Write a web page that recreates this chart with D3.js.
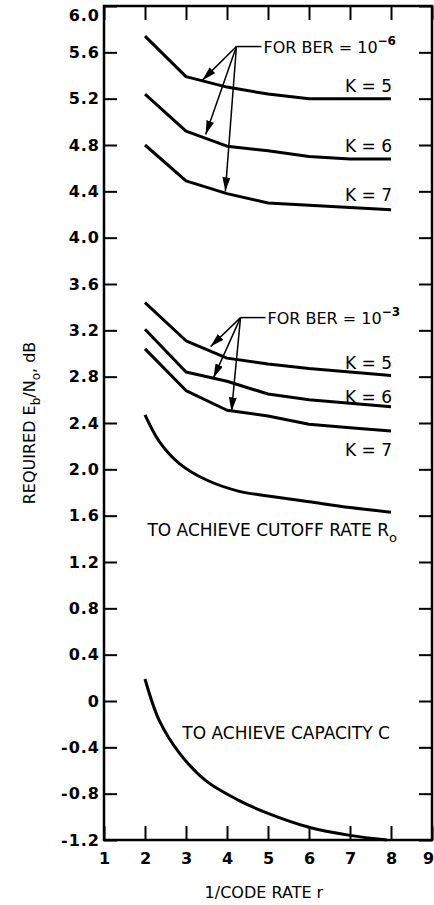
<!DOCTYPE html>
<html>
<head>
<meta charset="utf-8">
<script src="https://cdn.jsdelivr.net/npm/d3@7"></script>
<style>
  body { margin: 0; background: #fff; }
  text { font-family: "DejaVu Sans", sans-serif; fill: #000; }
  .tick text { font-weight: bold; }
</style>
</head>
<body>
<div id="main"></div>
<script>
// data
var rateX = [2, 3, 4, 5, 6, 7, 8];
var ber6K5 = [5.74, 5.39, 5.30, 5.24, 5.20, 5.20, 5.20];
var ber6K6 = [5.24, 4.92, 4.79, 4.75, 4.70, 4.68, 4.68];
var ber6K7 = [4.80, 4.49, 4.38, 4.30, 4.28, 4.26, 4.24];
var ber3K5 = [3.44, 3.11, 2.96, 2.91, 2.87, 2.84, 2.81];
var ber3K6 = [3.21, 2.84, 2.76, 2.65, 2.60, 2.57, 2.54];
var ber3K7 = [3.04, 2.68, 2.51, 2.46, 2.39, 2.36, 2.33];
var cutoffX = [2, 2.35, 2.84, 3.49, 4.3, 5, 6, 7, 8];
var cutoffY = [2.47, 2.24, 2.05, 1.91, 1.81, 1.77, 1.72, 1.67, 1.63];
var capX = [2, 2.35, 2.84, 3.49, 4.3, 5, 6, 7, 7.9];
var capY = [0.19, -0.17, -0.45, -0.69, -0.86, -0.97, -1.09, -1.16, -1.2];
var yTicks = [6.0, 5.6, 5.2, 4.8, 4.4, 4.0, 3.6, 3.2, 2.8, 2.4, 2.0, 1.6, 1.2, 0.8, 0.4, 0, -0.4, -0.8, -1.2];
var yTickLabels = ["6.0","5.6","5.2","4.8","4.4","4.0","3.6","3.2","2.8","2.4","2.0","1.6","1.2","0.8","0.4","0","-0.4","-0.8","-1.2"];
var xTicks = [1, 2, 3, 4, 5, 6, 7, 8, 9];

var margin = {top: 6, right: 2, bottom: 65, left: 104},
    width = 434 - margin.left - margin.right,
    height = 905 - margin.top - margin.bottom;

var svg = d3.select("#main")
    .append("svg")
    .attr("width", 434)
    .attr("height", 905)
    .append("g")
    .attr("transform", "translate(" + margin.left + "," + margin.top + ")");

var defs = svg.append("defs");
defs.append("marker")
    .attr("id", "arrow")
    .attr("viewBox", "0 0 14 8")
    .attr("refX", 14).attr("refY", 4)
    .attr("markerWidth", 14).attr("markerHeight", 8)
    .attr("markerUnits", "userSpaceOnUse")
    .attr("orient", "auto")
    .append("path")
    .attr("d", "M0,0 L14,4 L0,8 Z")
    .attr("fill", "#000");

var xScale = d3.scaleLinear().domain([1, 9]).range([0, width]);
var yScale = d3.scaleLinear().domain([-1.2, 6.0]).range([height, 0]);

// left axis, ticks inside
var yAxisL = svg.append("g")
    .call(d3.axisLeft(yScale).tickValues(yTicks).tickSizeInner(-13).tickSizeOuter(0).tickPadding(4)
      .tickFormat(function(d, i) { return yTickLabels[i]; }));
yAxisL.selectAll("text").style("font-size", "16px").attr("letter-spacing", "1px");
yAxisL.selectAll(".tick").filter(function(d) { return d === 6.0; }).select("text").attr("dy", "0.9em");

// right axis
svg.append("g")
    .attr("transform", "translate(" + width + ",0)")
    .call(d3.axisRight(yScale).tickValues(yTicks).tickSizeInner(-13).tickSizeOuter(0).tickFormat(""));

// bottom axis
var xAxisB = svg.append("g")
    .attr("transform", "translate(0," + height + ")")
    .call(d3.axisBottom(xScale).tickValues(xTicks).tickSizeInner(-14).tickSizeOuter(0).tickPadding(13)
      .tickFormat(d3.format("d")));
xAxisB.selectAll("text").style("font-size", "16px");
xAxisB.selectAll(".tick").filter(function(d) { return d === 9; }).select("text").attr("dx", "-4");

// top axis
svg.append("g")
    .call(d3.axisTop(xScale).tickValues(xTicks).tickSizeInner(-14).tickSizeOuter(0).tickFormat(""));

svg.selectAll(".domain").remove();
svg.selectAll(".tick line").attr("stroke", "#000").attr("stroke-width", 2);

// frame
svg.append("rect")
    .attr("x", 0).attr("y", 0)
    .attr("width", width).attr("height", height)
    .attr("fill", "none")
    .attr("stroke", "#000")
    .attr("stroke-width", 2.5);

var lineLin = d3.line()
    .x(function(d) { return xScale(d[0]); })
    .y(function(d) { return yScale(d[1]); });
var lineSmooth = d3.line()
    .curve(d3.curveCatmullRom)
    .x(function(d) { return xScale(d[0]); })
    .y(function(d) { return yScale(d[1]); });

[ber6K5, ber6K6, ber6K7, ber3K5, ber3K6, ber3K7].forEach(function(s) {
  svg.append("path")
      .datum(d3.zip(rateX, s))
      .attr("d", lineLin)
      .attr("fill", "none")
      .attr("stroke", "#000")
      .attr("stroke-width", 3)
      .attr("stroke-linejoin", "round");
});

svg.append("path")
    .datum(d3.zip(cutoffX, cutoffY))
    .attr("d", lineSmooth)
    .attr("fill", "none").attr("stroke", "#000").attr("stroke-width", 3);

svg.append("path")
    .datum(d3.zip(capX, capY))
    .attr("d", lineSmooth)
    .attr("fill", "none").attr("stroke", "#000").attr("stroke-width", 3);

// BER callouts: origin point in data units, arrows point at curves
function callout(ox, oy, label, exp, targets) {
  var px = xScale(ox), py = yScale(oy);
  svg.append("line")
      .attr("x1", px).attr("y1", py)
      .attr("x2", px + 25).attr("y2", py)
      .attr("stroke", "#000").attr("stroke-width", 1.5);
  targets.forEach(function(t) {
    svg.append("line")
        .attr("x1", px).attr("y1", py)
        .attr("x2", xScale(t[0])).attr("y2", yScale(t[1]))
        .attr("stroke", "#000").attr("stroke-width", 1.5)
        .attr("marker-end", "url(#arrow)");
  });
  var t = svg.append("text")
      .attr("x", px + 27).attr("y", py + 6)
      .style("font-size", "16px");
  t.append("tspan").text(label);
  t.append("tspan").attr("dy", -8).style("font-size", "12px").attr("font-weight", "bold").text(exp);
}

callout(4.23, 5.65, "FOR BER = 10", "\u22126", [[3.40, 5.36], [3.48, 4.89], [3.96, 4.40]]);
callout(4.33, 3.31, "FOR BER = 10", "\u22123", [[3.60, 3.06], [3.67, 2.79], [4.11, 2.50]]);

var kLabels = [["K = 5", 5.31], ["K = 6", 4.79], ["K = 7", 4.37], ["K = 5", 2.92], ["K = 6", 2.62], ["K = 7", 2.17]];
kLabels.forEach(function(k) {
  svg.append("text")
      .attr("x", xScale(8) + 1).attr("y", yScale(k[1]))
      .attr("dy", "0.35em")
      .attr("text-anchor", "end")
      .style("font-size", "17px")
      .text(k[0]);
});

var r0 = svg.append("text")
    .attr("x", xScale(2.06)).attr("y", yScale(1.475))
    .attr("dy", "0.35em")
    .style("font-size", "17px");
r0.append("tspan").text("TO ACHIEVE CUTOFF RATE R");
r0.append("tspan").attr("dy", 6).style("font-size", "13px").text("o");

svg.append("text")
    .attr("x", xScale(2.91)).attr("y", yScale(-0.28))
    .attr("dy", "0.35em")
    .style("font-size", "17px")
    .text("TO ACHIEVE CAPACITY C");

// axis titles
svg.append("text")
    .attr("x", xScale(4.9)).attr("y", height + 58)
    .attr("text-anchor", "middle")
    .style("font-size", "16px")
    .text("1/CODE RATE r");

var yt = svg.append("text")
    .attr("transform", "translate(" + (-69) + "," + (423 - margin.top) + ") rotate(-90)")
    .attr("text-anchor", "middle")
    .style("font-size", "16px");
yt.append("tspan").text("REQUIRED E");
yt.append("tspan").attr("dy", 5).style("font-size", "12px").text("b");
yt.append("tspan").attr("dy", -5).text("/N");
yt.append("tspan").attr("dy", 5).style("font-size", "12px").text("o");
yt.append("tspan").attr("dy", -5).text(", dB");
</script>
</body>
</html>
